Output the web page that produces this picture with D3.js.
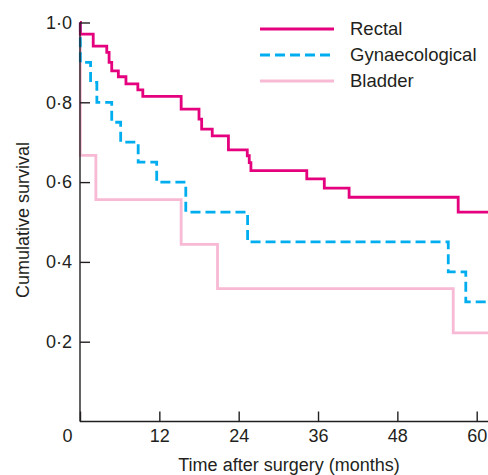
<!DOCTYPE html>
<html>
<head>
<meta charset="utf-8">
<script src="https://cdn.jsdelivr.net/npm/d3@7"></script>
<style>
  body { margin: 0; background: #fff; }
  text { font-family: "Liberation Sans", Arial, Helvetica, sans-serif; fill: #231f20; }
</style>
</head>
<body>
<div id="chart"></div>
<script>
// survival data (months, cumulative survival)
var rectalTime = [0, 0.05, 2.0, 4.05, 4.4, 4.8, 5.8, 6.95, 8.75, 9.5, 15.3, 18.0, 18.4, 20.0, 22.45, 25.3, 25.6, 25.85, 34.3, 36.95, 40.7, 57.2, 62];
var rectalSurv = [1.0, 0.971, 0.941, 0.925, 0.9, 0.879, 0.864, 0.846, 0.831, 0.815, 0.783, 0.758, 0.733, 0.716, 0.681, 0.666, 0.649, 0.629, 0.608, 0.585, 0.562, 0.525, 0.525];

var gynTime = [0, 0.05, 1.6, 2.55, 4.8, 6.15, 8.8, 11.6, 16.0, 25.35, 55.7, 58.35, 62];
var gynSurv = [1.0, 0.9, 0.85, 0.8, 0.75, 0.7, 0.65, 0.6, 0.525, 0.45, 0.375, 0.3, 0.3];

var bladderTime = [0, 0.05, 2.4, 15.3, 20.8, 56.45, 62];
var bladderSurv = [1.0, 0.667, 0.556, 0.444, 0.333, 0.222, 0.222];

var xTicks = [0, 12, 24, 36, 48, 60];
var yTicks = [0.2, 0.4, 0.6, 0.8, 1.0];

var seriesNames = ["Rectal", "Gynaecological", "Bladder"];

// colors
var magenta = "#e5007e";
var cyan = "#00aeef";
var pink = "#f7b9d4";

var width = 488, height = 475;

var svg = d3.select("#chart")
  .append("svg")
  .attr("width", width)
  .attr("height", height);

var x = d3.scaleLinear()
  .domain([0, 60])
  .range([80, 476.7]);

var y = d3.scaleLinear()
  .domain([0, 1])
  .range([421.5, 22.5]);

var series = [
  { name: seriesNames[0], time: rectalTime, surv: rectalSurv, color: magenta, dash: null },
  { name: seriesNames[1], time: gynTime, surv: gynSurv, color: cyan, dash: "10,5" },
  { name: seriesNames[2], time: bladderTime, surv: bladderSurv, color: pink, dash: null }
];

var line = d3.line()
  .x(function(d) { return x(d[0]); })
  .y(function(d) { return y(d[1]); })
  .curve(d3.curveStepAfter);

// curves (bladder first so the darker ones sit on top)
svg.selectAll(".curve")
  .data(series.slice().reverse())
  .enter().append("path")
  .attr("class", "curve")
  .attr("d", function(s) {
    return line(d3.zip(s.time, s.surv));
  })
  .attr("fill", "none")
  .attr("stroke", function(s) { return s.color; })
  .attr("stroke-width", 2.8)
  .attr("stroke-dasharray", function(s) { return s.dash; });

// x axis
var xAxis = svg.append("g")
  .attr("transform", "translate(0," + y(0) + ")")
  .call(d3.axisBottom(x).tickValues(xTicks).tickSize(-10).tickSizeOuter(0).tickPadding(8));

xAxis.select(".domain").attr("d", "M" + x(0) + ",0H" + width);

// the 0 label sits left of the corner
xAxis.selectAll(".tick")
  .filter(function(d) { return d === 0; })
  .select("text")
  .attr("dx", -13);

// y axis
var yAxis = svg.append("g")
  .attr("transform", "translate(" + x(0) + ",0)")
  .call(d3.axisLeft(y).tickValues(yTicks).tickSize(-10).tickSizeOuter(0).tickPadding(8)
    .tickFormat(function(d) { return d3.format(".1f")(d).replace(".", "\u00b7"); }));

yAxis.select(".domain").attr("d", "M0," + y(1) + "V" + y(0));

svg.selectAll(".domain, .tick line")
  .attr("stroke", "#231f20")
  .attr("stroke-width", 1.4);

svg.selectAll(".tick text")
  .attr("fill", "#231f20")
  .style("font-size", "18px");

// axis titles
svg.append("text")
  .attr("x", 289)
  .attr("y", 471)
  .attr("text-anchor", "middle")
  .style("font-size", "18px")
  .text("Time after surgery (months)");

svg.append("text")
  .attr("transform", "translate(29,220) rotate(-90)")
  .attr("text-anchor", "middle")
  .style("font-size", "18px")
  .text("Cumulative survival");

// legend
var legend = svg.selectAll(".legend")
  .data(series)
  .enter().append("g")
  .attr("class", "legend")
  .attr("transform", function(d, i) {
    return "translate(260," + (29 + i * 26) + ")";
  });

legend.append("line")
  .attr("x1", 0)
  .attr("x2", 74)
  .attr("stroke", function(d) { return d.color; })
  .attr("stroke-width", 2.8)
  .attr("stroke-dasharray", function(d) { return d.dash; });

legend.append("text")
  .attr("x", 90)
  .attr("y", 6)
  .style("font-size", "18.5px")
  .text(function(d) { return d.name; });
</script>
</body>
</html>
